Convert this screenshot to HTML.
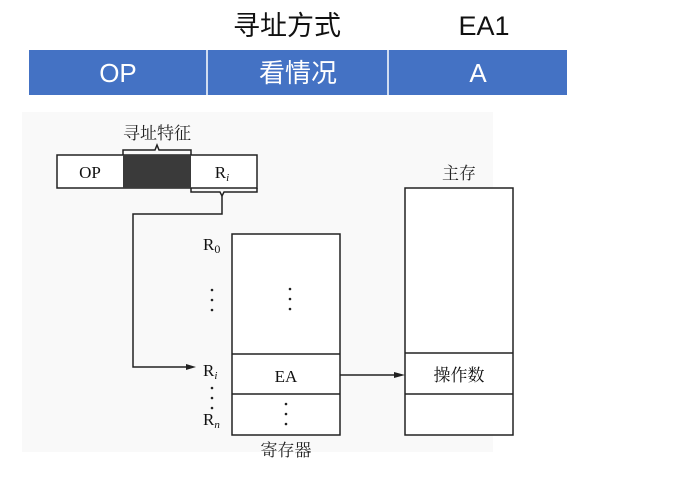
<!DOCTYPE html>
<html><head><meta charset="utf-8"><style>
body{margin:0;width:689px;height:475px;background:#fff;overflow:hidden}
</style></head><body>
<svg width="689" height="475" xmlns="http://www.w3.org/2000/svg" font-family="'Liberation Serif','Noto Serif CJK SC',serif">
<rect x="0" y="0" width="689" height="475" fill="#fff"/>
<text x="287" y="35" font-size="27" text-anchor="middle" font-family="'Liberation Sans','Noto Sans CJK SC',sans-serif" fill="#111">寻址方式</text>
<text x="484" y="35" font-size="27" text-anchor="middle" font-family="'Liberation Sans','Noto Sans CJK SC',sans-serif" fill="#111">EA1</text>
<rect x="29" y="50" width="538" height="45" fill="#4472c4"/>
<line x1="207" y1="50" x2="207" y2="95" stroke="#fff" stroke-width="1.5"/>
<line x1="388" y1="50" x2="388" y2="95" stroke="#fff" stroke-width="1.5"/>
<g font-family="'Liberation Sans','Noto Sans CJK SC',sans-serif" font-size="26" fill="#fff" text-anchor="middle">
<text x="118" y="82">OP</text><text x="298" y="82">看情况</text><text x="478" y="82">A</text></g>
<rect x="22" y="112" width="471" height="340" fill="#f9f9f9"/>
<text x="157" y="139" font-size="17" text-anchor="middle" fill="#222">寻址特征</text>
<path d="M123 155 v-5 h32 l2 -5 l2 5 h32 v5" fill="none" stroke="#222" stroke-width="1.5"/>
<rect x="57" y="155" width="200" height="33" fill="#fff" stroke="#222" stroke-width="1.5"/>
<rect x="123" y="155" width="68" height="33" fill="#3a3a3a"/>
<text x="90" y="178" font-size="17" text-anchor="middle" fill="#111">OP</text>
<text x="222" y="178" font-size="17" text-anchor="middle" fill="#111">R<tspan font-size="11" font-style="italic" dy="3">i</tspan></text>
<path d="M191 188 v4 h29 l2 4 l2 -4 h33 v-4" fill="none" stroke="#222" stroke-width="1.5"/>
<path d="M222 196 v18 h-89 v153 h55" fill="none" stroke="#222" stroke-width="1.5"/>
<path d="M186 364 l10 3 l-10 3 z" fill="#222"/>
<rect x="232" y="234" width="108" height="201" fill="#fff" stroke="#222" stroke-width="1.5"/>
<line x1="232" y1="354" x2="340" y2="354" stroke="#222" stroke-width="1.5"/>
<line x1="232" y1="394" x2="340" y2="394" stroke="#222" stroke-width="1.5"/>
<text x="286" y="382" font-size="17" text-anchor="middle" fill="#111">EA</text>
<g fill="#222"><circle cx="290" cy="289" r="1.3"/><circle cx="290" cy="299" r="1.3"/><circle cx="290" cy="309" r="1.3"/>
<circle cx="286" cy="404" r="1.3"/><circle cx="286" cy="414" r="1.3"/><circle cx="286" cy="424" r="1.3"/>
<circle cx="212" cy="290" r="1.3"/><circle cx="212" cy="300" r="1.3"/><circle cx="212" cy="310" r="1.3"/>
<circle cx="212" cy="388" r="1.3"/><circle cx="212" cy="398" r="1.3"/><circle cx="212" cy="408" r="1.3"/></g>
<text x="203" y="250" font-size="17" fill="#111">R<tspan font-size="12" dy="3">0</tspan></text>
<text x="203" y="376" font-size="17" fill="#111">R<tspan font-size="11" font-style="italic" dy="3">i</tspan></text>
<text x="203" y="425" font-size="17" fill="#111">R<tspan font-size="11" font-style="italic" dy="3">n</tspan></text>
<text x="286" y="456" font-size="17" text-anchor="middle" fill="#222">寄存器</text>
<line x1="340" y1="375" x2="396" y2="375" stroke="#222" stroke-width="1.5"/>
<path d="M394 372 l11 3 l-11 3 z" fill="#222"/>
<text x="459" y="179" font-size="17" text-anchor="middle" fill="#222">主存</text>
<rect x="405" y="188" width="108" height="247" fill="#fff" stroke="#222" stroke-width="1.5"/>
<line x1="405" y1="353" x2="513" y2="353" stroke="#222" stroke-width="1.5"/>
<line x1="405" y1="394" x2="513" y2="394" stroke="#222" stroke-width="1.5"/>
<text x="459" y="381" font-size="17" text-anchor="middle" fill="#111">操作数</text>
</svg>
</body></html>
